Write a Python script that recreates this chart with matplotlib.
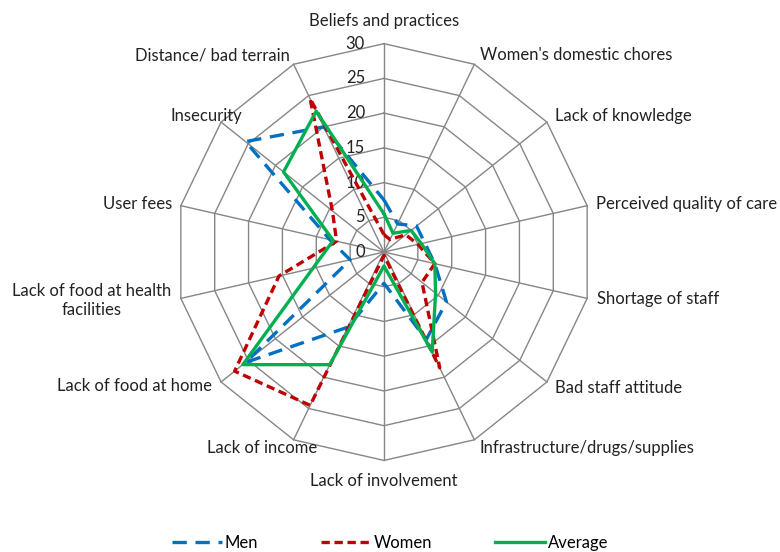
import numpy as np
import matplotlib
matplotlib.use("Agg")
import matplotlib.pyplot as plt

plt.rcParams['font.family'] = ['Lato', 'DejaVu Sans']

# Barriers to care, score per group
categories = ["Beliefs and practices", "Women's domestic chores", "Lack of knowledge",
              "Perceived quality of care", "Shortage of staff", "Bad staff attitude",
              "Infrastructure/drugs/supplies", "Lack of involvement", "Lack of income",
              "Lack of food at home", "Lack of food at health\nfacilities", "User fees",
              "Insecurity", "Distance/ bad terrain"]
men = [7.5, 4.5, 6, 6, 7.5, 11.5, 14, 4.5, 12, 25.5, 5, 8, 25.5, 20]
women = [2.5, 2, 4, 5, 7.5, 7, 18.5, 0.5, 24.5, 27.5, 15.5, 7, 9.5, 24.5]
average = [5.5, 3, 5, 5.5, 7.5, 9.5, 16, 2, 18, 26, 10.5, 7.5, 18.5, 22.5]
r_ticks = [0, 5, 10, 15, 20, 25, 30]

n = len(categories)
theta = np.linspace(0, 2 * np.pi, n, endpoint=False)
theta_c = np.append(theta, theta[0])

def closed(vals):
    return np.append(vals, vals[0])

fig = plt.figure(figsize=(7.8, 5.52), dpi=100)
ax = fig.add_axes([0.2251, 0.1659, 0.5344, 0.755], projection="polar")
ax.set_theta_offset(np.pi / 2)
ax.set_theta_direction(-1)
ax.set_ylim(0, 30)
ax.grid(False)
ax.spines["polar"].set_visible(False)
ax.set_xticks([])
ax.set_yticks([])

grid_col = "#868686"
# polygon grid
for r in r_ticks[1:]:
    ax.plot(theta_c, [r] * (n + 1), color=grid_col, lw=1.0, clip_on=False, zorder=1)
# spokes
for t in theta:
    ax.plot([t, t], [0, 30], color=grid_col, lw=1.0, clip_on=False, zorder=1)

# radial tick labels
for r in r_ticks:
    ax.annotate(str(r), xy=(0, r), xytext=(-19, 0), textcoords="offset pixels",
                ha="right", va="center", fontsize=12, color="#222222")

# category labels
offsets = [(0, 23, "center"), (6, 9, "left"), (8, 6, "left"), (9, 2, "left"),
           (10, -1, "left"), (8, -6, "left"), (5, -8, "left"), (0, -21, "center"),
           (24, -8, "right"), (-9, -4, "right"), (-89, -2, "center"), (-9, 2, "right"),
           (21, 6, "right"), (-4, 9, "right")]
for t, lab, (dx, dy, ha) in zip(theta, categories, offsets):
    ax.annotate(lab, xy=(t, 30), xytext=(dx, dy), textcoords="offset pixels",
                ha=ha, va="center", fontsize=12, color="#222222",
                multialignment="center", annotation_clip=False, linespacing=1.25)

ax.plot(theta_c, closed(men), color="#0070C0", lw=2.4, dashes=(4.3, 2.6),
        label="Men", zorder=3, clip_on=False)
ax.plot(theta_c, closed(women), color="#C00000", lw=2.4, dashes=(2.5, 1.4),
        label="Women", zorder=4, clip_on=False)
ax.plot(theta_c, closed(average), color="#00B050", lw=2.4,
        label="Average", zorder=5, clip_on=False)

fig.legend(loc="center", bbox_to_anchor=(0.5, 1 - 543 / 552), ncol=3, frameon=False,
           fontsize=12, handlelength=3.0, handletextpad=0.15, columnspacing=3.8)

fig.savefig("out.png", dpi=100)
